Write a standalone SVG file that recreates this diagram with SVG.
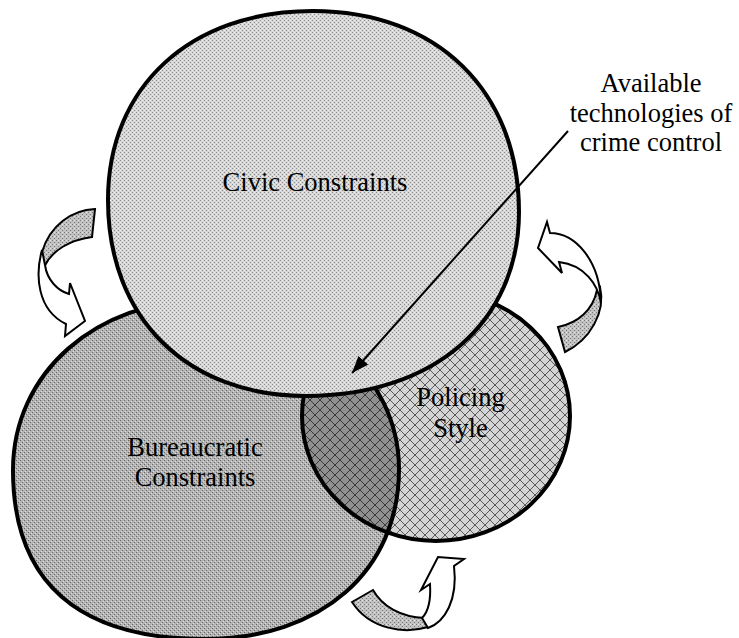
<svg xmlns="http://www.w3.org/2000/svg" width="739" height="638" viewBox="0 0 739 638">
  <defs>
    <style>
      text { font-family: "Liberation Serif", "Times New Roman", serif; font-size: 26.5px; fill: #000; text-anchor: middle; }
      .outline { fill: none; stroke: #000; stroke-width: 4; }
      .arrow-back { fill: url(#grainMid); stroke: #000; stroke-width: 2; stroke-linejoin: miter; }
      .arrow-front { fill: #fff; stroke: #000; stroke-width: 2; stroke-linejoin: miter; }
      .pointer { fill: none; stroke: #000; stroke-width: 2; }
    </style>
    <!-- halftone-like grain fills -->
    <pattern id="grainLight" width="4" height="4" patternUnits="userSpaceOnUse">
      <rect width="4" height="4" fill="#d6d6d6"/>
      <rect x="0" y="0" width="1" height="1" fill="#8c8c8c"/>
      <rect x="2" y="2" width="1" height="1" fill="#8c8c8c"/>
      <rect x="2" y="0" width="1" height="1" fill="#eeeeee"/>
      <rect x="0" y="2" width="1" height="1" fill="#eeeeee"/>
    </pattern>
    <pattern id="grainMid" width="4" height="4" patternUnits="userSpaceOnUse">
      <rect width="4" height="4" fill="#c2c2c2"/>
      <rect x="0" y="0" width="1" height="1" fill="#777"/>
      <rect x="2" y="2" width="1" height="1" fill="#777"/>
      <rect x="2" y="0" width="1" height="1" fill="#e6e6e6"/>
    </pattern>
    <pattern id="grainDark" width="4" height="4" patternUnits="userSpaceOnUse">
      <rect width="4" height="4" fill="#b4b4b4"/>
      <rect x="0" y="0" width="1" height="1" fill="#666"/>
      <rect x="2" y="2" width="1" height="1" fill="#666"/>
      <rect x="1" y="3" width="1" height="1" fill="#dcdcdc"/>
      <rect x="3" y="1" width="1" height="1" fill="#dcdcdc"/>
    </pattern>
    <!-- cross-hatched fills -->
    <pattern id="hatchLight" width="10" height="10" patternUnits="userSpaceOnUse">
      <rect width="10" height="10" fill="#d4d4d4"/>
      <path d="M0,0 L10,10 M10,0 L0,10" stroke="#5a5a5a" stroke-width="1"/>
    </pattern>
    <pattern id="hatchDark" width="10" height="10" patternUnits="userSpaceOnUse">
      <rect width="10" height="10" fill="#909090"/>
      <path d="M0,0 L10,10 M10,0 L0,10" stroke="#3a3a3a" stroke-width="1"/>
    </pattern>
    <path id="bureauShape" d="M13,470 C13,373 96,300 206,300 C313,300 399,376 399,469 C399,571 321,639 205,639 C78,639 13,582 13,470 Z"/>
    <ellipse id="policingShape" cx="436" cy="416" rx="134" ry="125"/>
    <clipPath id="inBureau">
      <use href="#bureauShape"/>
    </clipPath>
    <marker id="head" viewBox="0 0 17 13" refX="17" refY="6.5" markerWidth="17" markerHeight="13" markerUnits="userSpaceOnUse" orient="auto">
      <path d="M0,0 L17,6.5 L0,13 Z" fill="#000"/>
    </marker>
  </defs>

  <rect width="739" height="638" fill="#fff"/>

  <!-- Bureaucratic constraints -->
  <g id="bureaucratic">
    <use href="#bureauShape" fill="url(#grainDark)"/>
  </g>

  <!-- Policing style, with its overlap on the bureaucratic circle -->
  <g id="policing">
    <use href="#policingShape" fill="url(#hatchLight)"/>
    <use href="#policingShape" fill="url(#hatchDark)" clip-path="url(#inBureau)"/>
    <use href="#bureauShape" class="outline" stroke-width="3.5"/>
    <use href="#policingShape" class="outline" stroke-width="3.5"/>
    <text x="460.5" y="406">Policing</text>
    <text x="460.5" y="437">Style</text>
  </g>

  <g id="bureaucratic-label">
    <text x="195" y="455.5">Bureaucratic</text>
    <text x="195" y="486">Constraints</text>
  </g>

  <!-- Civic constraints -->
  <g id="civic">
    <path class="outline" style="fill:url(#grainLight)" d="M313,11 C437,11 519,91 519,212 C519,322 434,396 306,396 C187,396 108,318 108,200 C108,87 190,11 313,11 Z"/>
    <text x="315" y="191">Civic Constraints</text>
  </g>

  <!-- Annotation -->
  <g id="technologies">
    <text x="651" y="92">Available</text>
    <text x="651" y="121.5">technologies of</text>
    <text x="651" y="151">crime control</text>
  </g>

  <!-- Connectors -->
  <g id="connectors">
    <line class="pointer" x1="568" y1="131" x2="352" y2="373" marker-end="url(#head)"/>

    <!-- left curved arrow -->
    <path class="arrow-back" d="M95,209 C72,210 50,225 42,252 L44,267 C52,250 70,240 92,237 Z"/>
    <path class="arrow-front" d="M42,250 C35,275 37,310 66,324 L65,336 L85,321 L70,283 L69,294 C58,291 47,280 45,265 Z"/>

    <!-- right curved arrow -->
    <path class="arrow-back" d="M600,287 C606,312 590,340 565,352 L558,327 C578,323 593,310 597,290 Z"/>
    <path class="arrow-front" d="M550,233 C575,233 600,260 601,303 C598,285 585,265 559,262 L562,273 L538,248 L547,222 Z"/>

    <!-- bottom curved arrow -->
    <path class="arrow-back" d="M352,602 L373,590 C382,606 400,617 425,618 L428,627 C405,634 370,630 352,602 Z"/>
    <path class="arrow-front" d="M428,628 C445,622 458,600 454,566 L464,559 L438,557 L421,590 L430,584 C431,600 428,612 422,618 Z"/>
  </g>
</svg>
